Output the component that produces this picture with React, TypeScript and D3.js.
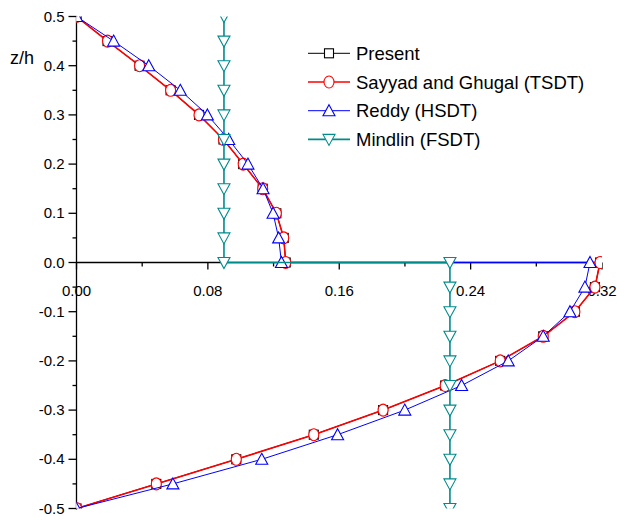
import React, { useEffect, useRef } from 'react';
import * as d3 from 'd3';

// through-thickness positions (z = 0 appears twice: top and bottom layer values)
const zLevels = [0.5, 0.45, 0.4, 0.35, 0.3, 0.25, 0.2, 0.15, 0.1, 0.05, 0, 0, -0.05, -0.1, -0.15, -0.2, -0.25, -0.3, -0.35, -0.4, -0.45, -0.5];

const present = [0, 0.0189, 0.0384, 0.0573, 0.0746, 0.0895, 0.1015, 0.1134, 0.1217, 0.1262, 0.1274, 0.3188, 0.3157, 0.3035, 0.2842, 0.258, 0.2245, 0.1867, 0.1445, 0.0973, 0.0486, 0];
const sayyad = [0, 0.0189, 0.0384, 0.0573, 0.0746, 0.0895, 0.1015, 0.1134, 0.1217, 0.1262, 0.1274, 0.3188, 0.3157, 0.3035, 0.2842, 0.258, 0.2245, 0.1867, 0.1445, 0.0973, 0.0486, 0];
const reddy = [0, 0.0226, 0.044, 0.0632, 0.0797, 0.0927, 0.1044, 0.1136, 0.1197, 0.1231, 0.1248, 0.3127, 0.3096, 0.3005, 0.2842, 0.2629, 0.2345, 0.1999, 0.159, 0.1128, 0.0587, 0];
const mindlin = [0.0898, 0.0898, 0.0898, 0.0898, 0.0898, 0.0898, 0.0898, 0.0898, 0.0898, 0.0898, 0.0898, 0.2274, 0.2274, 0.2274, 0.2274, 0.2274, 0.2274, 0.2274, 0.2274, 0.2274, 0.2274, 0.2274];

const seriesNames = ['Present', 'Sayyad and Ghugal (TSDT)', 'Reddy (HSDT)', 'Mindlin (FSDT)'];
const seriesColors = ['#000000', '#ff0000', '#0000ff', '#008b8b'];
const seriesMarkers = ['square', 'circle', 'up', 'down'];
const seriesWidths = [1, 1.6, 1, 1.6];

const xTicks = [0, 0.08, 0.16, 0.24, 0.32];
const xMinorTicks = [0.04, 0.12, 0.2, 0.28];
const yTicks = [0.5, 0.4, 0.3, 0.2, 0.1, 0, -0.1, -0.2, -0.3, -0.4, -0.5];
const yMinorTicks = [0.45, 0.35, 0.25, 0.15, 0.05, -0.05, -0.15, -0.25, -0.35, -0.45];

const font = "Arial, 'Liberation Sans', sans-serif";

function App() {
  const ref = useRef<SVGSVGElement>(null);

  useEffect(() => {
    const svg = d3.select(ref.current);
    svg.selectAll('*').remove();

    const x = d3.scaleLinear().domain([0, 0.32]).range([76.5, 602]);
    const y = d3.scaleLinear().domain([-0.5, 0.5]).range([508.5, 16.5]);

    svg.append('defs').append('clipPath').attr('id', 'plotclip')
      .append('rect')
      .attr('x', x(0)).attr('y', y(0.5))
      .attr('width', x(0.32) - x(0)).attr('height', y(-0.5) - y(0.5));

    const drawMarker = (g: any, kind: string, cx: number, cy: number, color: string) => {
      if (kind === 'square') {
        g.append('rect').attr('x', cx - 4.5).attr('y', cy - 4.5).attr('width', 9).attr('height', 9)
          .attr('fill', 'white').attr('stroke', color).attr('stroke-width', 1.1);
      } else if (kind === 'circle') {
        g.append('ellipse').attr('cx', cx).attr('cy', cy).attr('rx', 5).attr('ry', 6)
          .attr('fill', 'white').attr('stroke', color).attr('stroke-width', 1.1);
      } else if (kind === 'up') {
        g.append('path').attr('d', `M${cx},${cy - 6}L${cx + 6},${cy + 5}L${cx - 6},${cy + 5}Z`)
          .attr('fill', 'white').attr('stroke', color).attr('stroke-width', 1.1);
      } else {
        g.append('path').attr('d', `M${cx - 6},${cy - 5}L${cx + 6},${cy - 5}L${cx},${cy + 6}Z`)
          .attr('fill', 'white').attr('stroke', color).attr('stroke-width', 1.1);
      }
    };

    // axes
    const axes = svg.append('g').attr('stroke', '#000').attr('stroke-width', 1.3);
    axes.append('line').attr('x1', x(0)).attr('x2', x(0.32)).attr('y1', y(0)).attr('y2', y(0));
    axes.append('line').attr('x1', x(0)).attr('x2', x(0)).attr('y1', y(0.5)).attr('y2', y(-0.5) + 1);

    yTicks.forEach(t => {
      axes.append('line').attr('x1', x(0) - 8).attr('x2', x(0)).attr('y1', y(t)).attr('y2', y(t));
    });
    yMinorTicks.forEach(t => {
      axes.append('line').attr('x1', x(0) - 4).attr('x2', x(0)).attr('y1', y(t)).attr('y2', y(t));
    });
    xTicks.forEach(t => {
      axes.append('line').attr('x1', x(t)).attr('x2', x(t)).attr('y1', y(0)).attr('y2', y(0) + 7);
    });
    xMinorTicks.forEach(t => {
      axes.append('line').attr('x1', x(t)).attr('x2', x(t)).attr('y1', y(0)).attr('y2', y(0) + 4);
    });

    const fmtY = (d: number) => d3.format('.1f')(d).replace('\u2212', '-');

    svg.append('g').selectAll('text').data(yTicks).enter().append('text')
      .attr('x', x(0) - 12).attr('y', d => y(d) + 5)
      .attr('text-anchor', 'end').attr('font-family', font).attr('font-size', 15)
      .text(d => fmtY(d));

    svg.append('g').selectAll('text').data(xTicks).enter().append('text')
      .attr('x', d => x(d)).attr('y', y(0) + 33)
      .attr('text-anchor', 'middle').attr('font-family', font).attr('font-size', 15)
      .text(d => d3.format('.2f')(d));

    svg.append('text').attr('x', 10).attr('y', 63.5)
      .attr('font-family', font).attr('font-size', 18).text('z/h');

    // data
    const allSeries = [present, sayyad, reddy, mindlin];
    const plot = svg.append('g').attr('clip-path', 'url(#plotclip)');
    const line = d3.line<number>().x(d => x(d)).y((_, i) => y(zLevels[i]));

    allSeries.forEach((vals, s) => {
      const g = plot.append('g');
      g.append('path').attr('d', line(vals)).attr('fill', 'none')
        .attr('stroke', seriesColors[s]).attr('stroke-width', seriesWidths[s]);
      vals.forEach((v, i) => drawMarker(g, seriesMarkers[s], x(v), y(zLevels[i]), seriesColors[s]));
    });

    // legend
    const legend = svg.append('g');
    seriesNames.forEach((name, i) => {
      const ly = 53.3 + i * 28.7;
      legend.append('line').attr('x1', 308).attr('x2', 350).attr('y1', ly).attr('y2', ly)
        .attr('stroke', seriesColors[i]).attr('stroke-width', seriesWidths[i]);
      drawMarker(legend, seriesMarkers[i], 329, ly, seriesColors[i]);
      legend.append('text').attr('x', 356).attr('y', ly + 6.5)
        .attr('font-family', font).attr('font-size', 18.5).text(name);
    });
  }, []);

  return (
    <div style={{ position: 'absolute', left: 0, top: 0 }}>
      <svg ref={ref} width={617} height={517} style={{ display: 'block', background: '#fff' }} />
    </div>
  );
}

export default App;
